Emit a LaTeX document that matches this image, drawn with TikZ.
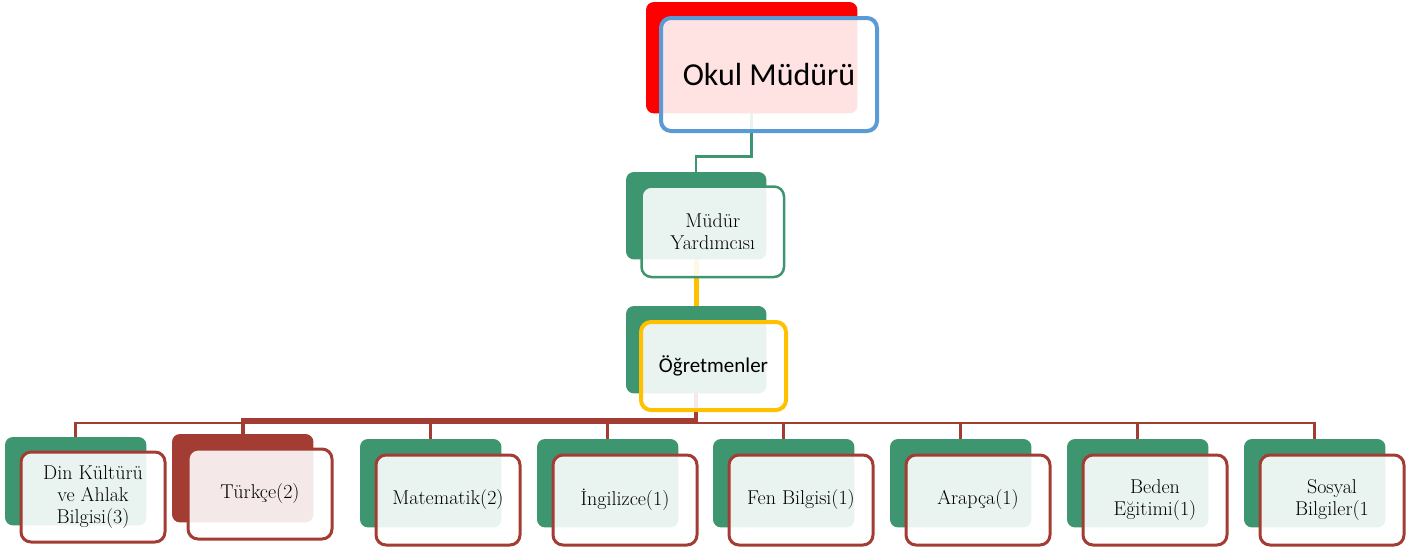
\documentclass[tikz,border=0pt]{standalone}
\usepackage{fontspec}
\newfontfamily\carl{Carlito}
\definecolor{grn}{HTML}{3D9670}
\definecolor{dred}{HTML}{A33C33}
\definecolor{blu}{HTML}{5B9BD5}
\definecolor{yel}{HTML}{FFC000}
\definecolor{pred}{HTML}{FF0000}
\tikzset{
  backbox/.style={fill=#1, rounded corners=8pt, inner sep=0pt, anchor=north west},
  frontbox/.style={draw=#1, fill=white, fill opacity=0.89, text opacity=1, rounded corners=10pt, inner sep=0pt, anchor=north west, align=center},
  childback/.style={backbox=#1, minimum width=141pt, minimum height=88pt},
  childfront/.style={frontbox=dred, line width=3pt, minimum width=144pt, minimum height=90pt, font=\fontsize{20}{22}\selectfont},
  conn/.style={line width=#1},
}
\begin{document}
\begin{tikzpicture}[x=1pt,y=-1pt]
\useasboundingbox (0,0) rectangle (1422,547);
% back shapes (placed first, filled after the connectors)
\path
  (646,2) node[backbox=pred, minimum width=211pt, minimum height=111pt, fill=none] (okb) {}
  (626,172) node[backbox=grn, minimum width=140pt, minimum height=87pt, fill=none] (yab) {}
  (626,306) node[backbox=grn, minimum width=140pt, minimum height=87pt, fill=none] (ogb) {}
  (5,437) node[childback=grn, fill=none] (c1b) {}
  (172,434) node[childback=dred, fill=none] (c2b) {}
  (360,439) node[childback=grn, fill=none] (c3b) {}
  (537,439) node[childback=grn, fill=none] (c4b) {}
  (713,439) node[childback=grn, fill=none] (c5b) {}
  (890,439) node[childback=grn, fill=none] (c6b) {}
  (1067,439) node[childback=grn, fill=none] (c7b) {}
  (1244,439) node[childback=grn, fill=none] (c8b) {};
% connectors
\draw[conn=2.5pt, grn] (okb.south) -- ++(0,43) -| (yab.north);
\draw[conn=5pt, yel] (yab.south) -- (ogb.north);
\foreach \c in {c1b,c3b,c4b,c5b,c6b,c7b,c8b}
  \draw[conn=2.5pt, dred] (ogb.south) -- ++(0,29.5) -| (\c.north);
\draw[conn=4pt, dred] (ogb.south) -- ++(0,27) -| (c2b.north);
% back fills
\fill[pred, rounded corners=8pt] (okb.north west) rectangle (okb.south east);
\foreach \c/\col in {yab/grn,ogb/grn,c1b/grn,c2b/dred,c3b/grn,c4b/grn,c5b/grn,c6b/grn,c7b/grn,c8b/grn}
  \fill[\col, rounded corners=8pt] (\c.north west) rectangle (\c.south east);
% front boxes
\node[frontbox=blu, line width=4pt, minimum width=216pt, minimum height=113pt, font=\carl\fontsize{32}{38}\selectfont] (okf) at (659,16) {Okul Müdürü};
\node[frontbox=grn, line width=2.5pt, minimum width=142.5pt, minimum height=90.5pt, font=\fontsize{20}{22}\selectfont] (yaf) at (640.25,185.25) {Müdür\\Yardımcısı};
\node[frontbox=yel, line width=4pt, minimum width=145pt, minimum height=88pt, font=\carl\fontsize{21}{25}\selectfont] (ogf) at (639,320) {Öğretmenler};
\node[childfront] (c1f) at (19.5,450.5) {Din Kültürü\\ve Ahlak\\Bilgisi(3)};
\node[childfront] (c2f) at (186.5,447.5) {Türkçe(2)};
\node[childfront] (c3f) at (374.5,453.5) {Matematik(2)};
\node[childfront] (c4f) at (551.5,453.5) {İngilizce(1)};
\node[childfront] (c5f) at (727.5,453.5) {Fen Bilgisi(1)};
\node[childfront] (c6f) at (904.5,453.5) {Arapça(1)};
\node[childfront] (c7f) at (1081.5,453.5) {Beden\\Eğitimi(1)};
\node[childfront] (c8f) at (1258.5,453.5) {Sosyal\\Bilgiler(1};
\end{tikzpicture}
\end{document}
